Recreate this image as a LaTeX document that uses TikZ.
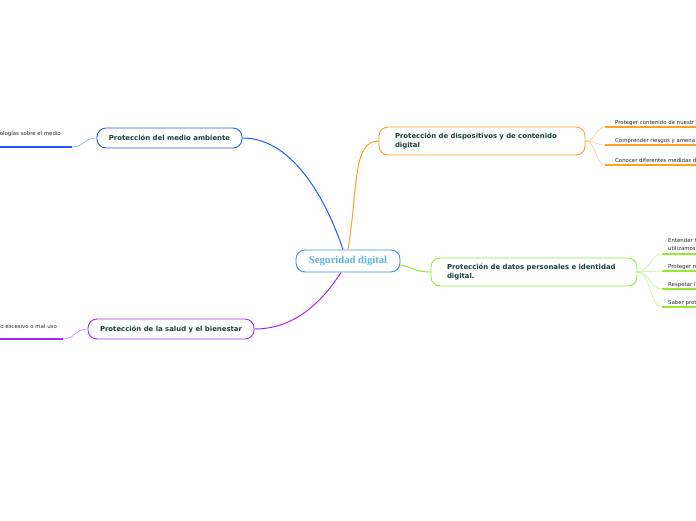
\documentclass[tikz,border=0pt]{standalone}
\usepackage{fontspec}
\setmainfont{DejaVu Sans}
\newfontfamily\rootfont{Liberation Serif}
\usetikzlibrary{positioning}
\definecolor{rootc}{RGB}{60,150,210}
\definecolor{roottxt}{RGB}{90,180,230}
\definecolor{envc}{RGB}{30,90,255}
\definecolor{healthc}{RGB}{170,40,235}
\definecolor{devc}{RGB}{255,160,30}
\definecolor{datac}{RGB}{150,235,50}
\definecolor{txt}{RGB}{20,65,55}
\definecolor{leaftxt}{RGB}{40,40,40}
\tikzset{
  root/.style={rounded corners=9pt, draw=rootc, line width=0.9pt, fill=white, minimum width=104pt, minimum height=22pt, text=roottxt, font=\rootfont\bfseries\fontsize{10.6}{12}\selectfont},
  topic/.style={rounded corners=9pt, draw=#1, line width=0.9pt, fill=white, text=txt, font=\bfseries\fontsize{6.9}{9}\selectfont, inner sep=0pt},
  leaf/.style={text=leaftxt, font=\fontsize{5.4}{7.5}\selectfont, inner sep=0pt, anchor=base west, align=left},
  leafR/.style={leaf, anchor=base east, align=right},
  ln/.style={draw=#1, line width=1.6pt},
  br/.style={draw=#1!60, line width=0.5pt},
  cn/.style={draw=#1, line width=1pt}
}
\begin{document}
\begin{tikzpicture}[x=1pt,y=-1pt]
\useasboundingbox (0,0) rectangle (696,520);
\clip (0,0) rectangle (696,520);

\node[root] (sd) at (348,261) {Seguridad digital};

\node[topic=envc, minimum width=145pt, minimum height=20pt] (env) at (169.5,138) {Protección del medio ambiente};
\node[topic=healthc, minimum width=166pt, minimum height=20pt] (health) at (171,329) {Protección de la salud y el bienestar};
\node[topic=devc, minimum width=206pt, minimum height=28pt, text width=174pt, align=left] (dev) at (482,141) {Protección de dispositivos y de contenido\\digital};
\node[topic=datac, minimum width=206pt, minimum height=28pt, text width=174pt, align=left] (data) at (534,272) {Protección de datos personales e identidad\\digital.};

\draw[cn=envc] ([xshift=-5pt]sd.north) .. controls (328,205) and (295,138) .. (env.east);
\draw[cn=devc] ([xshift=0pt]sd.north) .. controls (358,190) and (352,141) .. (dev.west);
\draw[cn=healthc] ([xshift=-7pt]sd.south) .. controls (318,308) and (290,329) .. (health.east);
\draw[cn=datac] ([yshift=-4pt]sd.east) .. controls (415,268) and (415,272) .. (data.west);

% left leaves
\coordinate (e1) at (72,147);
\coordinate (e1end) at (0,147);
\draw[br=envc] (env.west) .. controls (84,138) and (84,147) .. (e1);
\draw[ln=envc] (e1) -- (e1end);
\node[leafR] (e1t) at (61,135) {ologías sobre el medio};

\coordinate (h1) at (63,339);
\coordinate (h1end) at (0,339);
\draw[br=healthc] (health.west) .. controls (75,329) and (75,339) .. (h1);
\draw[ln=healthc] (h1) -- (h1end);
\node[leafR] (h1t) at (57,328) {o excesivo o mal uso};

% right leaves
\foreach \y/\t [count=\i] in {127/Proteger contenido de nuestr,145/Comprender riesgos y amena,165/Conocer diferentes medidas d}{
  \coordinate (d\i) at (605,\y);
  \coordinate (d\i end) at (700,\y);
  \draw[br=devc] (dev.east) .. controls (596,141) and (596,\y) .. (d\i);
  \draw[ln=devc] (d\i) -- (d\i end);
  \node[leaf] (d\i t) at (615,\y-2.5) {\t};
}

\foreach \y [count=\i] in {254,271,289,307}{
  \coordinate (p\i) at (662,\y);
  \coordinate (p\i end) at (700,\y);
  \draw[br=datac] (data.east) .. controls (650,272) and (650,\y) .. (p\i);
  \draw[ln=datac] (p\i) -- (p\i end);
}
\node[leaf] (p1t) at (668,250) {Entender l\\utilizamos};
\node[leaf] (p2t) at (668,268) {Proteger n};
\node[leaf] (p3t) at (668,286) {Respetar l};
\node[leaf] (p4t) at (668,304) {Saber prot};
\end{tikzpicture}
\end{document}
